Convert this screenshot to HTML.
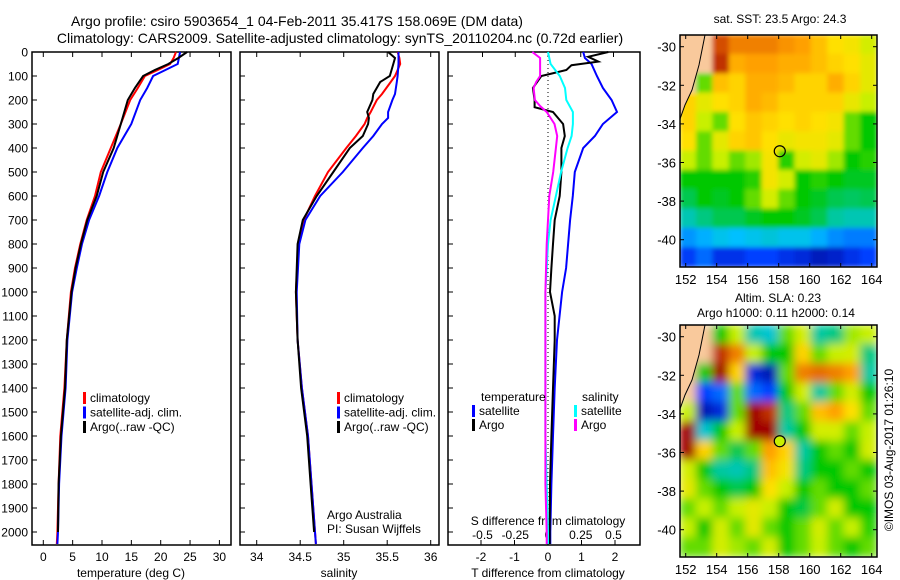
<!DOCTYPE html>
<html><head><meta charset="utf-8"><style>
body{margin:0;background:#fff;}
svg{display:block;font-family:"Liberation Sans",sans-serif;}
</style></head><body>
<svg id="fig" width="900" height="580" viewBox="0 0 900 580" xmlns="http://www.w3.org/2000/svg">
<defs>
<filter id="blur1" x="0" y="0" width="1" height="1"><feGaussianBlur stdDeviation="2.5" edgeMode="duplicate"/></filter>
<filter id="blur2" x="0" y="0" width="1" height="1"><feGaussianBlur stdDeviation="4.5" edgeMode="duplicate"/></filter>
<clipPath id="c1"><rect x="680" y="35" width="197" height="232"/></clipPath>
<clipPath id="c2"><rect x="680" y="325" width="197" height="232"/></clipPath>
</defs>
<text x="297" y="26" font-size="14" text-anchor="middle">Argo profile: csiro 5903654_1 04-Feb-2011 35.417S 158.069E (DM data)</text>
<text x="340" y="43" font-size="14" text-anchor="middle">Climatology: CARS2009. Satellite-adjusted climatology: synTS_20110204.nc (0.72d earlier)</text>
<text x="780" y="23" font-size="12" text-anchor="middle">sat. SST: 23.5 Argo: 24.3</text>
<text x="778" y="302" font-size="12" text-anchor="middle">Altim. SLA: 0.23</text>
<text x="776" y="317" font-size="12" text-anchor="middle">Argo h1000: 0.11 h2000: 0.14</text>
<text transform="translate(893,450) rotate(-90)" font-size="12" text-anchor="middle">©IMOS 03-Aug-2017 01:26:10</text>
<g id="g"></g>
</svg>
<script>
// ---- data ----
const depthTemp = [0,25,50,75,100,150,200,300,400,500,600,700,800,900,1000,1200,1400,1600,1800,2000,2050];
const tempClim  = [22.6,22.2,21.6,19.5,17.3,16.1,14.8,13.2,11.5,9.8,8.8,7.4,6.3,5.4,4.7,4.0,3.6,2.9,2.6,2.4,2.3];
const tempSat   = [23.3,23.1,22.9,20.8,18.7,17.7,16.5,15.0,12.6,10.9,9.5,7.8,6.6,5.7,4.9,4.1,3.8,3.1,2.7,2.5,2.4];
const tempArgo  = [24.5,23.0,21.3,19.0,17.0,15.6,14.4,13.2,12.0,10.2,9.1,7.5,6.4,5.5,4.8,4.0,3.7,3.0,2.6,2.5];
const depthSal  = [0,25,50,100,125,175,200,250,275,300,350,400,500,600,700,800,1000,1200,1400,1600,1800,2000,2050];
const salClim   = [35.62,35.64,35.65,35.59,35.54,35.44,35.38,35.31,35.27,35.24,35.14,35.03,34.82,34.67,34.54,34.48,34.45,34.47,34.52,34.59,34.63,34.67,34.68];
const salSat    = [35.63,35.63,35.63,35.62,35.61,35.59,35.56,35.51,35.51,35.44,35.34,35.22,34.99,34.73,34.56,34.49,34.46,34.47,34.52,34.59,34.63,34.67,34.68];
const salArgo   = [35.51,35.59,35.57,35.53,35.42,35.34,35.33,35.27,35.29,35.28,35.22,35.07,34.88,34.69,34.53,34.47,34.45,34.47,34.51,34.58,34.62,34.66];
const depthDiff = [0,25,50,100,150,200,250,300,350,400,500,600,700,800,900,1000,1200,1400,1600,1800,2000,2050];
const tDiffSat  = [1.05,1.1,1.3,1.46,1.64,1.9,2.06,1.64,1.4,1.05,0.8,0.74,0.66,0.6,0.54,0.42,0.27,0.2,0.15,0.1,0.07,0.07];
const depthTArgo= [0,20,40,55,75,90,100,150,200,230,250,300,350,400,500,600,700,800,900,1000,1100,1200,1400,1600,1800,2000,2050];
const tDiffArgo = [1.8,1.2,1.5,0.7,0.55,0.1,-0.2,-0.45,-0.4,-0.4,0.15,0.45,0.5,0.4,0.4,0.35,0.2,0.15,0.1,0.06,0.2,0.2,0.15,0.1,0.06,0.05,0.05];
const sDiffSat  = [0.0,0.01,0.02,0.09,0.13,0.14,0.19,0.19,0.18,0.15,0.1,0.06,0.02,0.0,-0.01,-0.02,-0.02,-0.02,-0.02,-0.01,0.0,0.0];
const depthSArgo= [0,25,75,100,125,150,200,225,250,300,350,400,500,600,700,800,1000,1400,1800,2000,2050];
const sDiffArgo = [-0.12,-0.06,-0.06,-0.06,-0.09,-0.11,-0.1,-0.06,-0.01,0.05,0.07,0.06,0.04,0.01,0.0,-0.01,-0.02,-0.02,-0.02,-0.01,-0.01];
const depthTicks = [0,100,200,300,400,500,600,700,800,900,1000,1100,1200,1300,1400,1500,1600,1700,1800,1900,2000];
const tempTicks = [0,5,10,15,20,25,30];
const salTicks = [34,34.5,35,35.5,36];
const tDiffTicks = [-2,-1,0,1,2];
const sDiffTicks = [-0.5,-0.25,0,0.25,0.5];
const latTicks = [-30,-32,-34,-36,-38,-40];
const lonTicks = [152,154,156,158,160,162,164];
const argoLon = 158.069, argoLat = -35.417;
const L = -1;
const sstGrid = [
[L,L,0.92,0.85,0.85,0.85,0.82,0.8,0.75,0.7,0.68,0.62],
[L,L,0.95,0.78,0.8,0.8,0.78,0.78,0.75,0.72,0.7,0.65],
[L,0.55,0.75,0.72,0.78,0.78,0.76,0.72,0.72,0.78,0.72,0.65],
[0.72,0.65,0.7,0.72,0.78,0.76,0.72,0.72,0.72,0.72,0.66,0.6],
[0.72,0.6,0.55,0.7,0.74,0.72,0.7,0.72,0.7,0.68,0.55,0.5],
[0.7,0.55,0.65,0.72,0.74,0.7,0.66,0.68,0.68,0.65,0.55,0.5],
[0.6,0.55,0.6,0.55,0.58,0.68,0.52,0.62,0.65,0.58,0.5,0.52],
[0.5,0.5,0.5,0.5,0.52,0.68,0.62,0.5,0.52,0.5,0.48,0.48],
[0.45,0.5,0.48,0.5,0.55,0.62,0.55,0.5,0.48,0.45,0.44,0.45],
[0.38,0.42,0.45,0.45,0.48,0.5,0.5,0.48,0.45,0.4,0.38,0.38],
[0.25,0.28,0.32,0.3,0.32,0.34,0.32,0.32,0.28,0.24,0.22,0.22],
[0.14,0.2,0.12,0.12,0.15,0.15,0.12,0.1,0.06,0.08,0.12,0.15]];
const slaGrid = [
[L,L,0.5,0.6,0.38,0.35,0.55,0.62,0.4,0.42,0.58,0.6],
[L,L,0.95,0.85,0.6,0.5,0.5,0.72,0.55,0.6,0.62,0.42],
[L,0.5,1.0,0.72,0.1,0.05,0.55,0.85,0.88,0.85,0.8,0.4],
[L,0.15,0.2,0.55,0.2,0.15,0.5,0.62,0.4,0.55,0.62,0.5],
[0.6,0.05,0.1,0.55,1.0,0.95,0.42,0.55,0.75,0.8,0.7,0.55],
[1.0,0.35,0.5,0.6,1.0,1.0,0.4,0.5,0.62,0.62,0.55,0.6],
[1.0,0.72,0.55,0.45,0.55,0.8,0.72,0.4,0.5,0.55,0.5,0.62],
[0.62,0.5,0.4,0.38,0.42,0.75,0.68,0.42,0.5,0.5,0.55,0.5],
[0.65,0.55,0.5,0.45,0.5,0.7,0.6,0.5,0.55,0.5,0.5,0.55],
[0.55,0.6,0.55,0.6,0.65,0.6,0.5,0.46,0.55,0.62,0.5,0.5],
[0.6,0.5,0.62,0.55,0.65,0.55,0.5,0.55,0.62,0.55,0.6,0.52],
[0.55,0.55,0.62,0.58,0.55,0.62,0.5,0.55,0.6,0.55,0.5,0.55]];

// ---- helpers ----
const NS="http://www.w3.org/2000/svg";
const G=document.getElementById('g');
function mk(tag,attrs,parent){const e=document.createElementNS(NS,tag);for(const k in attrs)e.setAttribute(k,attrs[k]);(parent||G).appendChild(e);return e;}
function txt(x,y,s,size,anchor,name){const t=mk('text',{x:x,y:y,'font-size':size,'text-anchor':anchor||'middle'});t.textContent=s;


return t;}
const yD=d=>52+d*0.24;
const xT=v=>43.3+v*5.87;
const xS=v=>256.7+(v-34)*87;
const xTD=v=>548+v*33.5;
const xSD=v=>548+v*131;
const panels=[[32,231],[240,439],[448,640]];
function line(xs,ds,fx,color,name){
  const pts=xs.map((v,i)=>fx(v).toFixed(1)+','+yD(ds[i]).toFixed(1)).join(' ');
  const p=mk('polyline',{points:pts,fill:'none',stroke:color,'stroke-width':2});
  
  
}
panels.forEach((p,i)=>{
  const r=mk('rect',{x:p[0],y:52,width:p[1]-p[0],height:493,fill:'none',stroke:'#000','stroke-width':1.5});
  
  
  depthTicks.forEach(d=>{mk('line',{x1:p[0],x2:p[0]+5,y1:yD(d),y2:yD(d),stroke:'#000'});});
});
depthTicks.forEach(d=>txt(28,yD(d)+4.5,String(d),12,'end','depth-tick-label'));
const zl=mk('line',{x1:xTD(0),x2:xTD(0),y1:52,y2:545,stroke:'#000','stroke-dasharray':'1,3'});


tempTicks.forEach(v=>{mk('line',{x1:xT(v),x2:xT(v),y1:52,y2:57,stroke:'#000'});mk('line',{x1:xT(v),x2:xT(v),y1:545,y2:540,stroke:'#000'});txt(xT(v),561,String(v),12,'middle','temp-tick-label');});
salTicks.forEach(v=>{mk('line',{x1:xS(v),x2:xS(v),y1:52,y2:57,stroke:'#000'});mk('line',{x1:xS(v),x2:xS(v),y1:545,y2:540,stroke:'#000'});txt(xS(v),561,String(v),12,'middle','sal-tick-label');});
tDiffTicks.forEach(v=>{mk('line',{x1:xTD(v),x2:xTD(v),y1:545,y2:540,stroke:'#000'});txt(xTD(v),561,String(v),12,'middle','tdiff-tick-label');});
sDiffTicks.forEach(v=>{mk('line',{x1:xSD(v),x2:xSD(v),y1:52,y2:57,stroke:'#000'});txt(xSD(v),539,String(v),12,'middle','sdiff-tick-label');});
txt(131,577,'temperature (deg C)',12,'middle','temp-axis-title');
txt(339,577,'salinity',12,'middle','sal-axis-title');
txt(548,577,'T difference from climatology',12,'middle','tdiff-axis-title');
txt(548,525,'S difference from climatology',12,'middle','sdiff-axis-title');
line(tempClim,depthTemp,xT,'#f00','temp-climatology-line');
line(tempSat,depthTemp,xT,'#00f','temp-satellite-line');
line(tempArgo,depthTemp.slice(0,tempArgo.length),xT,'#000','temp-argo-line');
line(salClim,depthSal,xS,'#f00','sal-climatology-line');
line(salSat,depthSal,xS,'#00f','sal-satellite-line');
line(salArgo,depthSal.slice(0,salArgo.length),xS,'#000','sal-argo-line');
line(tDiffSat,depthDiff,xTD,'#00f','tdiff-satellite-line');
line(tDiffArgo,depthTArgo,xTD,'#000','tdiff-argo-line');
line(sDiffSat,depthDiff,xSD,'#0ff','sdiff-satellite-line');
line(sDiffArgo,depthSArgo,xSD,'#f0f','sdiff-argo-line');
function leg(x,y,c,s,name){const r=mk('rect',{x:x,y:y-10,width:3,height:12,fill:c});


txt(x+7,y,s,12,'start',name);}
[[83,'#f00','climatology'],[83,'#00f','satellite-adj. clim.'],[83,'#000','Argo(..raw -QC)']].forEach((e,i)=>leg(e[0],402+i*14.5,e[1],e[2],'temp-legend-entry'));
[[337,'#f00','climatology'],[337,'#00f','satellite-adj. clim.'],[337,'#000','Argo(..raw -QC)']].forEach((e,i)=>leg(e[0],402+i*14.5,e[1],e[2],'sal-legend-entry'));
txt(481,401,'temperature',12,'start','diff-legend-temp-header');
txt(582,401,'salinity',12,'start','diff-legend-sal-header');
leg(472,415,'#00f','satellite','diff-legend-entry');
leg(472,429,'#000','Argo','diff-legend-entry');
leg(574,415,'#0ff','satellite','diff-legend-entry');
leg(574,429,'#f0f','Argo','diff-legend-entry');
txt(327,519,'Argo Australia',12,'start','credit-argo-australia');
txt(327,533,'PI: Susan Wijffels',12,'start','credit-pi');
const stops=[[0,[0,0,143]],[0.15,[0,64,255]],[0.3,[0,192,255]],[0.4,[0,200,160]],[0.5,[0,200,0]],[0.6,[200,240,0]],[0.7,[255,224,0]],[0.8,[255,160,0]],[0.9,[224,96,0]],[1,[160,0,0]]];
function cmap(v){for(let i=1;i<stops.length;i++){if(v<=stops[i][0]){const a=stops[i-1],b=stops[i],t=(v-a[0])/(b[0]-a[0]);return 'rgb('+a[1].map((c,k)=>Math.round(c+(b[1][k]-c)*t)).join(',')+')';}}return 'rgb(160,0,0)';}
function drawMap(grid,y0,clip,name,fillCircle,blur){
  const lonX=v=>685.7+(v-152)*15.5;
  const latY=v=>y0+11.7+(-30-v)*19.3;
  const g=mk('g',{'clip-path':'url(#'+clip+')'});
  
  
  const inner=mk('g',{filter:'url(#'+blur+')'},g);
  const cw=197/12,ch=232/12;
  grid.forEach((row,r)=>row.forEach((v,c)=>{
    const cell=mk('rect',{x:680+c*cw-0.5,y:y0+r*ch-0.5,width:cw+1,height:ch+1,fill:v<0?'#f9c99c':cmap(v)},inner);
    
    
  }));
  const land=mk('polygon',{points:'680,'+y0+' 705,'+y0+' 699,'+(y0+30)+' 692,'+(y0+55)+' 685,'+(y0+70)+' 680,'+(y0+84),fill:'#f9c99c',stroke:'#000','stroke-width':1},g);
  
  
  const box=mk('rect',{x:680,y:y0,width:197,height:232,fill:'none',stroke:'#000','stroke-width':1.5});
  
  
  latTicks.forEach(v=>{mk('line',{x1:680,x2:684,y1:latY(v),y2:latY(v),stroke:'#000'});mk('line',{x1:877,x2:873,y1:latY(v),y2:latY(v),stroke:'#000'});txt(676,latY(v)+5,String(v),13,'end','lat-tick-label');});
  lonTicks.forEach(v=>{mk('line',{x1:lonX(v),x2:lonX(v),y1:y0,y2:y0+4,stroke:'#000'});mk('line',{x1:lonX(v),x2:lonX(v),y1:y0+232,y2:y0+228,stroke:'#000'});txt(lonX(v),y0+249,String(v),13,'middle','lon-tick-label');});
  const c=mk('circle',{cx:lonX(argoLon),cy:latY(argoLat),r:5.5,fill:fillCircle,stroke:'#000','stroke-width':1.2});
  
  
}
drawMap(sstGrid,35,'c1','sst-map','none','blur1');
drawMap(slaGrid,325,'c2','sla-map','#c8f000','blur2');
</script>
</body></html>
